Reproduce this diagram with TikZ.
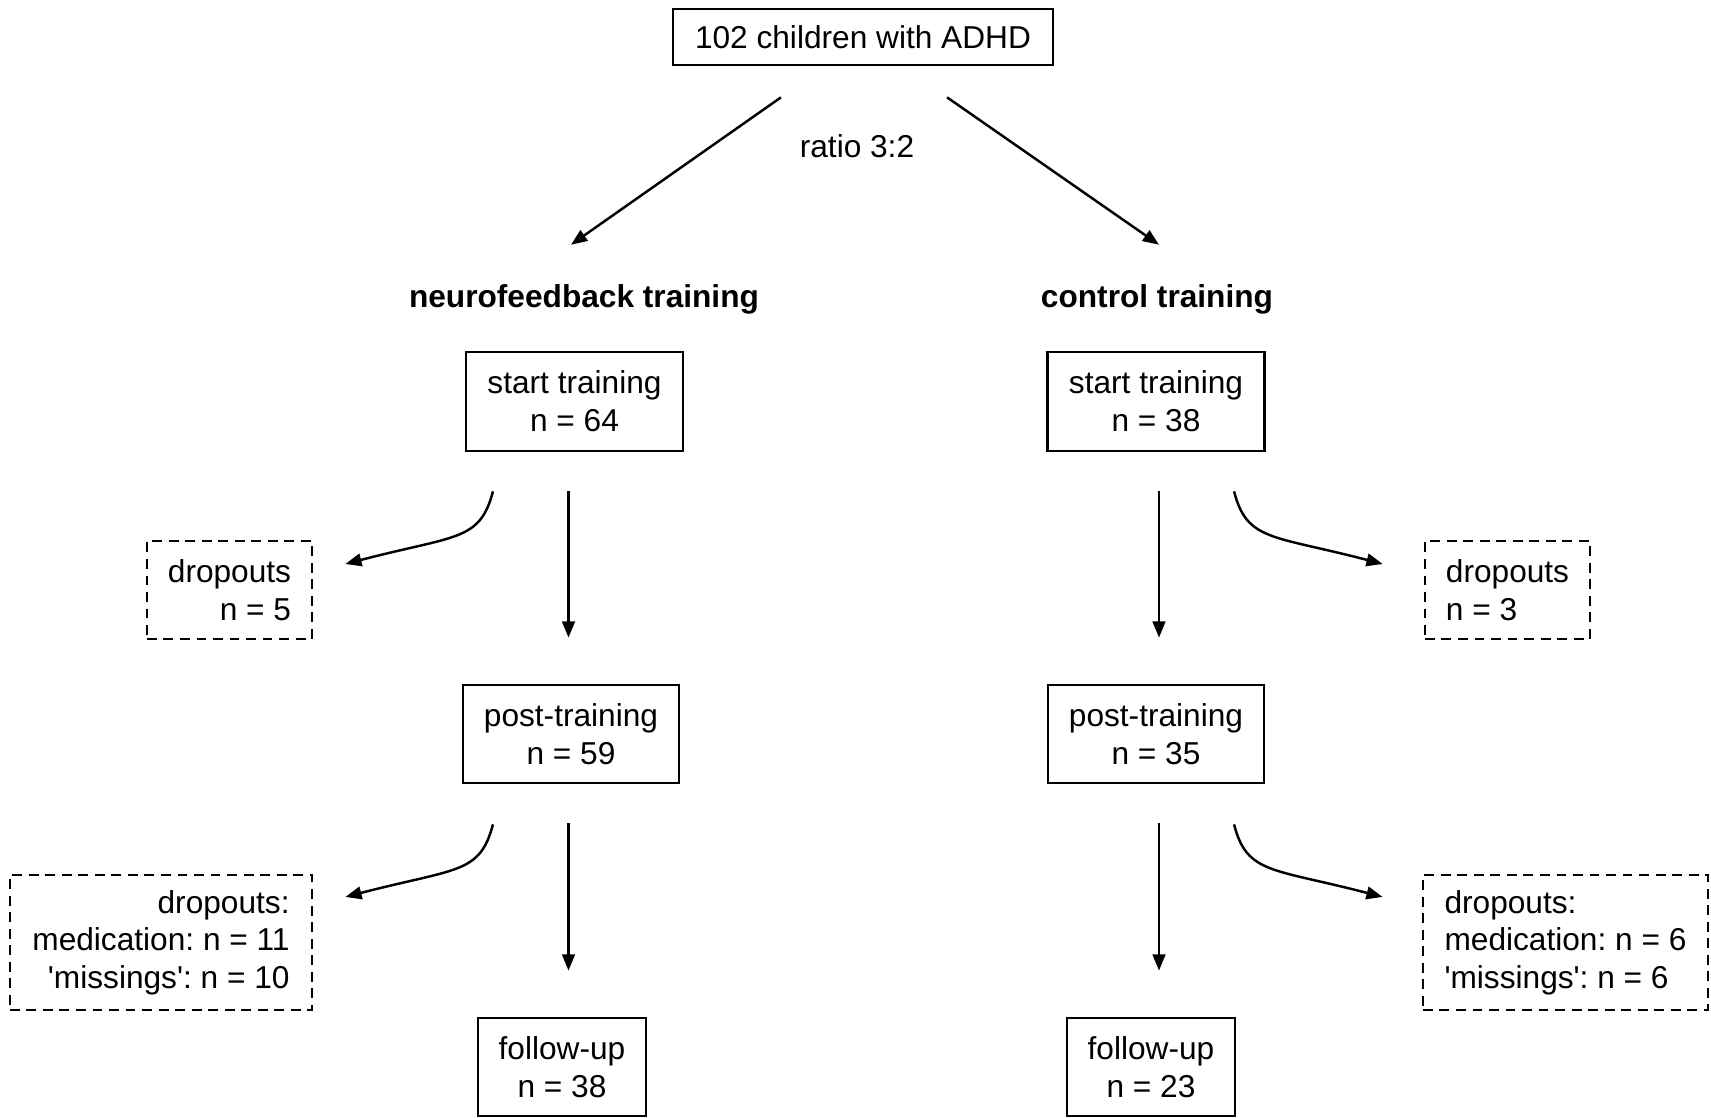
\documentclass[tikz,border=0pt]{standalone}
\usepackage{fontspec}
\setmainfont{Liberation Sans}
\usetikzlibrary{arrows.meta,positioning,calc}
\frenchspacing

\tikzset{
  box/.style={draw, line width=0.75pt, align=center, inner sep=0pt},
  dropbox/.style={box, dash pattern=on 2.8pt off 1.9pt},
  armtitle/.style={font=\fontsize{9}{10.7}\selectfont\bfseries},
  arr/.style={line width=0.7pt, -{Triangle[length=4.6pt,width=3.6pt]}},
}

\begin{document}
\begin{tikzpicture}[x=0.01cm, y=-0.01cm, font=\fontsize{9}{10.7}\selectfont]
  \useasboundingbox (0,0) rectangle (1711,1118);
  % Nodes
  \node[box, minimum width=3.8cm, minimum height=0.56cm] (all) at (863,37) {102 children with ADHD};
  \node (ratio) at (857,146) {ratio 3:2};
  \node[armtitle] (nf) at (584,299) {neurofeedback training};
  \node[armtitle] (ctrl) at (1157,299) {control training};

  \node[box, minimum width=2.17cm, minimum height=0.99cm] (startL) at (574.5,401.5) {start training\\n = 64};
  \node[box, minimum width=2.17cm, minimum height=0.99cm] (startR) at (1156,401.5) {start training\\n = 38};
  \node[dropbox, align=right, minimum width=1.65cm, minimum height=0.98cm] (dropL1) at (229.5,590) {dropouts\\n = 5};
  \node[dropbox, align=left, minimum width=1.65cm, minimum height=0.98cm] (dropR1) at (1507.5,590) {dropouts\\n = 3};

  \node[box, minimum width=2.16cm, minimum height=0.98cm] (postL) at (571,734) {post-training\\n = 59};
  \node[box, minimum width=2.16cm, minimum height=0.98cm] (postR) at (1156,734) {post-training\\n = 35};
  \node[dropbox, align=right, minimum width=3.02cm, minimum height=1.35cm] (dropL2) at (161,942.5)
    {dropouts:\\medication: n = 11\\\textquotesingle missings\textquotesingle: n = 10};
  \node[dropbox, align=left, minimum width=2.85cm, minimum height=1.35cm] (dropR2) at (1565.5,942.5)
    {dropouts:\\medication: n = 6\\\textquotesingle missings\textquotesingle: n = 6};

  \node[box, minimum width=1.68cm, minimum height=0.98cm] (followL) at (562,1067) {follow-up\\n = 38};
  \node[box, minimum width=1.68cm, minimum height=0.98cm] (followR) at (1151,1067) {follow-up\\n = 23};

  % Edges
  \draw[arr] ([xshift=-8.2mm,yshift=-3.1mm]all.south) -- ([xshift=-1.3mm,yshift=2.7mm]nf.north);
  \draw[arr] ([xshift=8.4mm,yshift=-3.1mm]all.south) -- ([xshift=0.2mm,yshift=2.7mm]ctrl.north);

  \foreach \from/\to/\dx in {startL/postL/-6, postL/followL/-2.5, startR/postR/3, postR/followR/3}
    \draw[arr, shorten <=0.39cm, shorten >=0.46cm] ($(\from.south)+(\dx,0)$) -- ($(\from.south |- \to.north)+(\dx,0)$);

  \draw[arr] ([xshift=-8.15mm,yshift=-3.9mm]startL.south) .. controls +(-13,50) and +(111,-29) .. ([xshift=3.2mm,yshift=2.6mm]dropL1.east);
  \draw[arr] ([xshift=7.8mm,yshift=-3.9mm]startR.south) .. controls +(13,50) and +(-111,-29) .. ([xshift=-4.1mm,yshift=2.6mm]dropR1.west);
  \draw[arr] ([xshift=-7.8mm,yshift=-4mm]postL.south) .. controls +(-13,50) and +(111,-29) .. ([xshift=3.2mm,yshift=4.55mm]dropL2.east);
  \draw[arr] ([xshift=7.8mm,yshift=-4mm]postR.south) .. controls +(13,50) and +(-111,-29) .. ([xshift=-3.9mm,yshift=4.55mm]dropR2.west);
\end{tikzpicture}
\end{document}
